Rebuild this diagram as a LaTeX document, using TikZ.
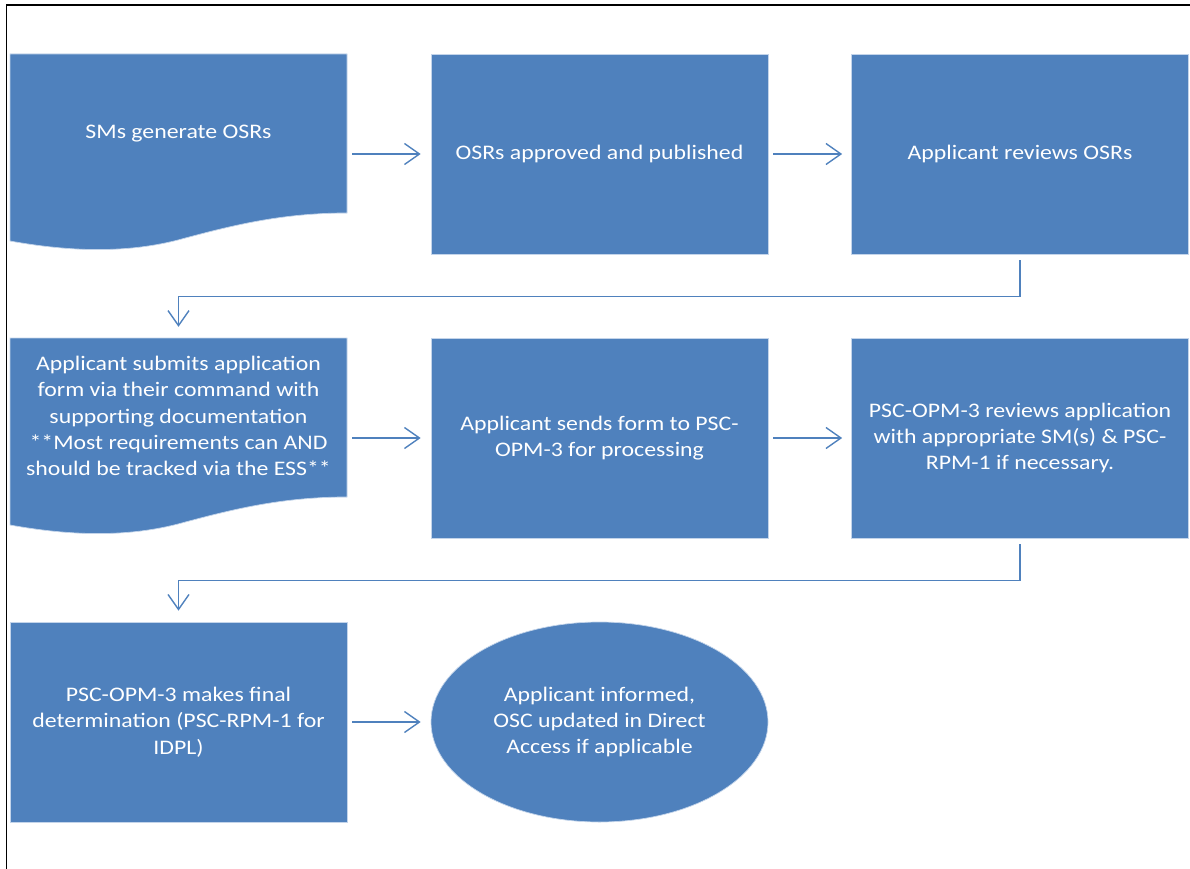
\documentclass[tikz,border=0pt]{standalone}
\usepackage{fontspec}
\setmainfont{Carlito}[FakeStretch=1.15]
\usetikzlibrary{arrows.meta,shapes.geometric,calc}
\definecolor{stepblue}{HTML}{4F81BD}
\definecolor{stepedge}{HTML}{C3D4EA}
\tikzset{
  stepbox/.style={rectangle, fill=stepblue, draw=stepedge, line width=0.7pt,
    minimum width=337pt, minimum height=200pt, inner sep=0pt},
  framebox/.style={rectangle, draw=none, minimum width=337pt, minimum height=200pt, inner sep=0pt},
  endbox/.style={ellipse, fill=stepblue, draw=stepedge, line width=0.7pt,
    minimum width=337pt, minimum height=200pt, inner sep=0pt},
  steptext/.style={text=white, align=center, font=\fontsize{20.7pt}{26.3pt}\selectfont, inner sep=0pt},
  docfill/.style={fill=stepblue, draw=stepedge, line width=0.7pt},
  flow/.style={draw=stepblue, line width=1.4pt,
    -{Straight Barb[length=15pt,width=21pt,line width=1.4pt]}},
}
\begin{document}
\begin{tikzpicture}[x=1pt,y=-1pt]
\useasboundingbox (0,0) rectangle (1190,869);
% outer frame: top and left rules only
\draw[line width=1.3pt] (6.5,869) -- (6.5,5) -- (1190,5);

% --- row 1 ---
\path[docfill] (10,54) -- (347,54) -- (347,213)
  .. controls (280,213) and (230,226) .. (178,240)
  .. controls (120,255) and (60,250) .. (10,241) -- cycle;
\node[framebox] (b1) at (178.5,154) {};
\node[steptext] (t1) at (178.5,134) {SMs generate OSRs};
\node[stepbox, steptext] (b2) at (599.5,154) {OSRs approved and published};
\node[stepbox, steptext] (b3) at (1020,154) {Applicant reviews OSRs};

% --- row 2 ---
\path[docfill] (10,338) -- (347,338) -- (347,497)
  .. controls (280,497) and (230,510) .. (178,524)
  .. controls (120,539) and (60,534) .. (10,525) -- cycle;
\node[framebox] (b4) at (178.5,438) {};
\node[steptext] (t4) at (178.5,416) {Applicant submits application\\form via their command with\\supporting documentation\\**Most requirements can AND\\should be tracked via the ESS**};
\node[stepbox, steptext] (b5) at (599.5,438) {Applicant sends form to PSC-\\OPM-3 for processing};
\node[stepbox, steptext] (b6) at (1020,438) {PSC-OPM-3 reviews application\\with appropriate SM(s) \& PSC-\\RPM-1 if necessary.};

% --- row 3 ---
\node[stepbox, steptext] (b7) at (178.5,722) {PSC-OPM-3 makes final\\determination (PSC-RPM-1 for\\IDPL)};
\node[endbox, steptext] (b8) at (599.5,722) {Applicant informed,\\OSC updated in Direct\\Access if applicable};

% --- connectors ---
\draw[flow, shorten <=5pt, shorten >=10pt] (b1.east) -- (b2.west);
\draw[flow, shorten <=5pt, shorten >=9pt] (b2.east) -- (b3.west);
\draw[flow, shorten <=6pt, shorten >=11pt] (b3.south) -- ++(0,42) -| (b4.north);
\draw[flow, shorten <=5pt, shorten >=10pt] (b4.east) -- (b5.west);
\draw[flow, shorten <=5pt, shorten >=9pt] (b5.east) -- (b6.west);
\draw[flow, shorten <=6pt, shorten >=11pt] (b6.south) -- ++(0,42) -| (b7.north);
\draw[flow, shorten <=5pt, shorten >=10pt] (b7.east) -- (b8.west);
\end{tikzpicture}
\end{document}
